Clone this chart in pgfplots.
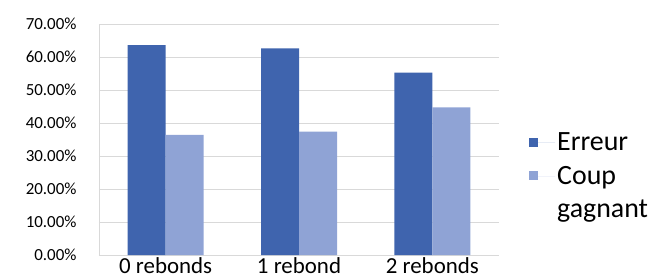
\documentclass[border=0pt]{standalone}
\usepackage{pgfplots}
\pgfplotsset{compat=1.18}
\usepackage{fontspec}
\setmainfont{Carlito}
\definecolor{errc}{HTML}{3F64AE}
\definecolor{coupc}{HTML}{8FA3D5}
\definecolor{gridc}{HTML}{D9D9D9}
\begin{document}
\begin{tikzpicture}
\path[use as bounding box] (-99bp,-25bp) rectangle (550bp,255bp);
\begin{axis}[
  at={(0,0)}, anchor=south west,
  scale only axis,
  width=400bp, height=231bp,
  ybar=0pt, bar width=38bp,
  xmin=-0.5, xmax=2.5,
  ymin=0, ymax=70,
  xtick={0,1,2},
  xticklabels={0 rebonds,1 rebond,2 rebonds},
  ytick={0,10,...,70},
  yticklabel={\pgfmathprintnumber[fixed,fixed zerofill,precision=2]{\tick}\%},
  /pgf/number format/assume math mode=true,
  ymajorgrids, grid style={gridc, line width=0.8pt},
  axis x line*=bottom, axis y line*=left,
  axis line style={gridc, line width=0.8pt},
  major tick length=0pt,
  xticklabel style={font=\fontsize{23}{25}\selectfont, yshift=1bp},
  yticklabel style={font=\fontsize{17}{19}\selectfont, xshift=-19bp},
  legend style={draw=none, fill=none, at={(1.075,0.538)}, anchor=north west,
    font=\fontsize{28}{31}\selectfont, cells={anchor=west},
    row sep=10bp, inner sep=0pt},
  legend image code/.code={\fill[#1] (0bp,-4bp) rectangle (9bp,5bp); \path (0bp,0bp) -- (26bp,0bp);},
]
\addplot[fill=errc, draw=none] coordinates {(0,63.6) (1,62.6) (2,55.3)};
\addplot[fill=coupc, draw=none] coordinates {(0,36.4) (1,37.4) (2,44.7)};
\addlegendimage{empty legend}
\legend{Erreur, Coup, gagnant}
\end{axis}
\end{tikzpicture}
\end{document}
